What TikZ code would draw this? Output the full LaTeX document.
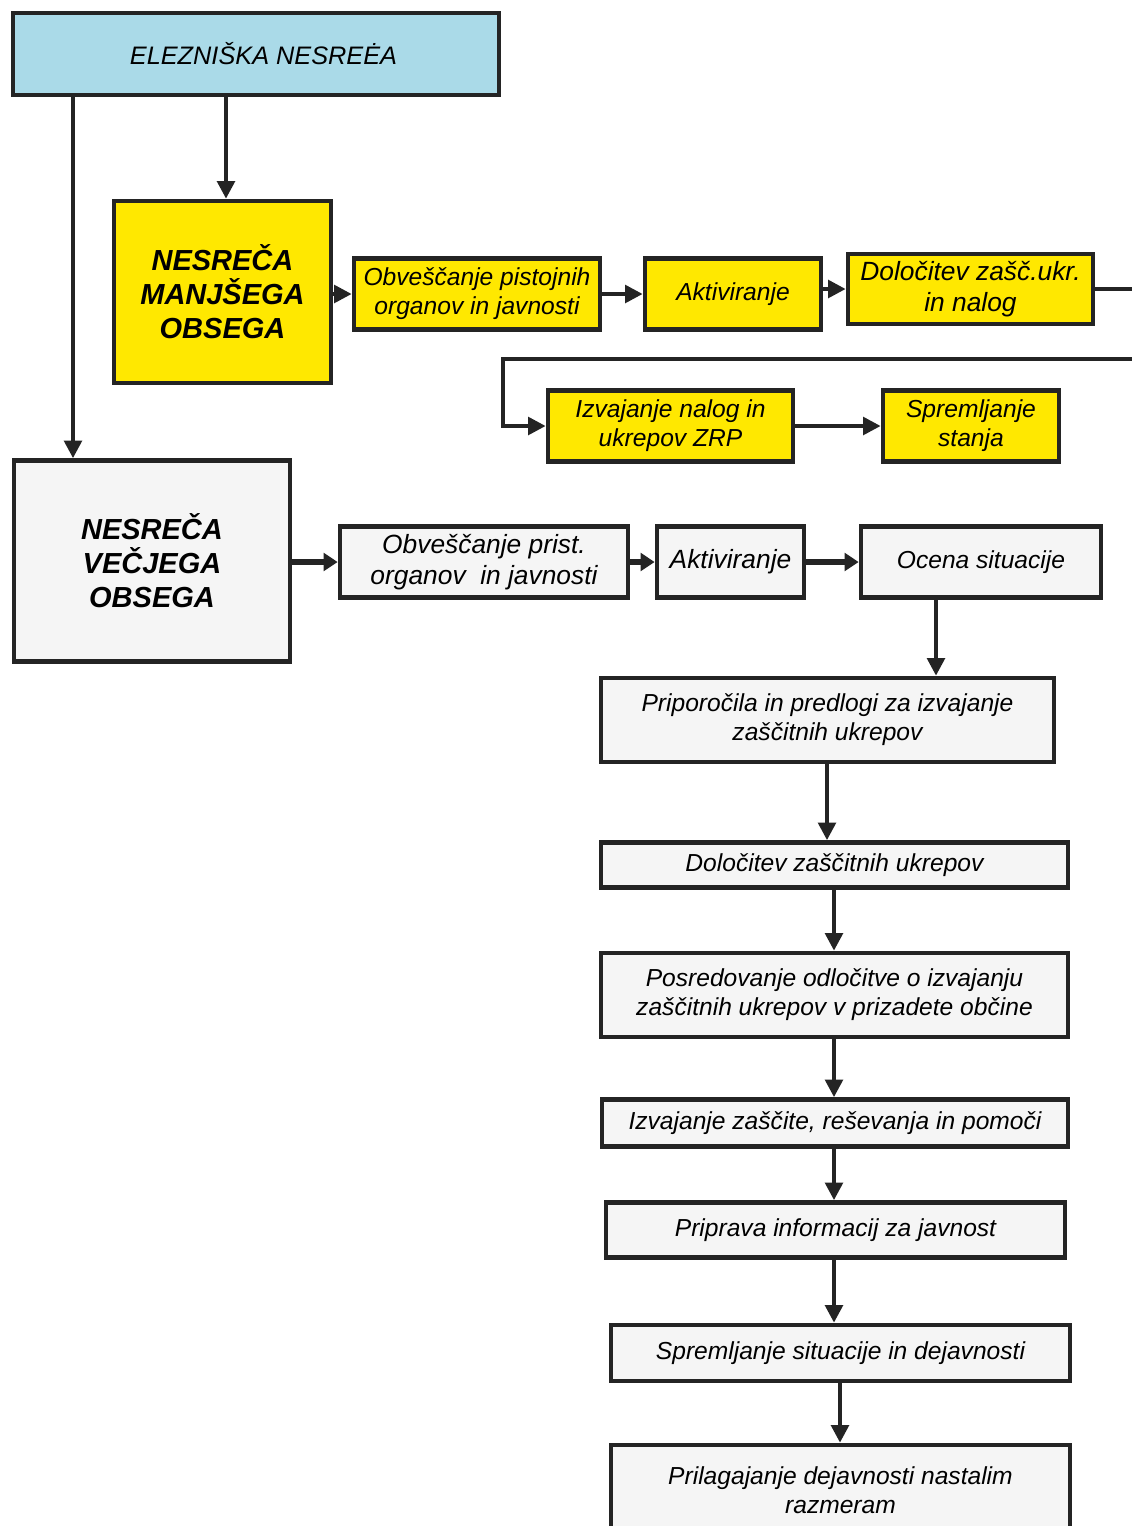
\documentclass[tikz,border=0pt]{standalone}
\usepackage{fontspec}
\setmainfont{Liberation Sans}
\usetikzlibrary{arrows.meta}

\definecolor{nesrecablue}{RGB}{170,218,232}
\definecolor{nesrecayellow}{RGB}{255,232,0}
\definecolor{nesrecagray}{RGB}{245,245,245}
\definecolor{linegray}{RGB}{36,36,36}

\begin{document}
\begin{tikzpicture}[x=0.02cm,y=-0.02cm,
  box/.style={draw=linegray,line width=2.7pt,align=center,inner sep=0pt,fill=nesrecagray,
    font=\fontsize{14}{16.6}\selectfont\itshape},
  bigbox/.style={box,font=\fontsize{16.5}{19.3}\selectfont\bfseries\itshape},
  arr/.style={draw=linegray,line width=2.2pt,-{Triangle[length=10pt,width=10pt]}},
  thickarr/.style={arr,line width=3pt,-{Triangle[length=8pt,width=10pt]}}]

\clip (0,0) rectangle (1132,1526);
\fill[white] (0,0) rectangle (1132,1526);

\node (top) at (256,54)[box,fill=nesrecablue,minimum width=9.72cm,minimum height=1.64cm,font=\fontsize{14.4}{17}\selectfont\itshape]{\hspace{0.3cm}ELEZNIŠKA NESREĖA};

\node (manj) at (222.5,292)[bigbox,fill=nesrecayellow,minimum width=4.34cm,minimum height=3.64cm]{NESREČA\\MANJŠEGA\\OBSEGA};
\node (obvm) at (477,294)[box,fill=nesrecayellow,minimum width=4.92cm,minimum height=1.42cm]{Obveščanje pistojnih\\organov in javnosti};
\node (aktm) at (733,294)[box,fill=nesrecayellow,minimum width=3.52cm,minimum height=1.42cm]{Aktiviranje};
\node (dolm) at (970.5,289)[box,fill=nesrecayellow,minimum width=4.9cm,minimum height=1.4cm,font=\fontsize{15}{18}\selectfont\itshape]{Določitev zašč.ukr.\\in nalog};
\node (izvm) at (670.5,426)[box,fill=nesrecayellow,minimum width=4.9cm,minimum height=1.42cm]{Izvajanje nalog in\\ukrepov ZRP};
\node (sprm) at (971,426)[box,fill=nesrecayellow,minimum width=3.52cm,minimum height=1.42cm]{Spremljanje\\stanja};

\node (vec) at (152,561)[bigbox,minimum width=5.52cm,minimum height=4.02cm]{NESREČA\\VEČJEGA\\OBSEGA};
\node (obvv) at (484,562)[box,minimum width=5.76cm,minimum height=1.42cm,font=\fontsize{15}{18}\selectfont\itshape]{Obveščanje prist.\\organov~ in javnosti};
\node (aktv) at (730.5,562)[box,minimum width=2.94cm,minimum height=1.42cm,font=\fontsize{15}{18}\selectfont\itshape]{Aktiviranje};
\node (ocena) at (981,562)[box,minimum width=4.8cm,minimum height=1.42cm]{Ocena situacije};

\node (prip) at (827.5,720)[box,minimum width=9.06cm,minimum height=1.68cm]{Priporočila in predlogi za izvajanje\\zaščitnih ukrepov};
\node (dolz) at (834.5,865)[box,minimum width=9.34cm,minimum height=0.9cm]{Določitev zaščitnih ukrepov};
\node (posr) at (834.5,995)[box,minimum width=9.34cm,minimum height=1.68cm]{Posredovanje odločitve o izvajanju\\zaščitnih ukrepov v prizadete občine};
\node (izvz) at (835,1123)[box,minimum width=9.32cm,minimum height=0.94cm]{Izvajanje zaščite, reševanja in pomoči};
\node (priz) at (835.5,1230)[box,minimum width=9.18cm,minimum height=1.1cm]{Priprava informacij za javnost};
\node (spsi) at (840.5,1353)[box,minimum width=9.18cm,minimum height=1.12cm]{Spremljanje situacije in dejavnosti};
\node (pril) at (840.5,1490)[box,minimum width=9.18cm,minimum height=1.8cm]{Prilagajanje dejavnosti nastalim\\razmeram};

\coordinate (loopr) at (dolm.east -| 1145,0);

\draw[arr](top.south -| 226,0) -- (manj.north -| 226,0);
\draw[arr](top.south -| 73,0) -- (vec.north -| 73,0);

\draw[arr](manj.east |- obvm.west) -- (obvm.west);
\draw[arr](obvm.east) -- (aktm.west);
\draw[arr](aktm.east |- dolm.west) -- (dolm.west);
\draw[arr](dolm.east) -- (loopr) -- ++(0,70) -| (503,400) |- (izvm.west);
\draw[arr](izvm.east) -- (sprm.west);

\draw[thickarr](vec.east |- obvv.west) -- (obvv.west);
\draw[thickarr](obvv.east) -- (aktv.west);
\draw[thickarr](aktv.east) -- (ocena.west);

\draw[arr](ocena.south -| 936,0) -- (prip.north -| 936,0);
\draw[arr](prip.south -| 827,0) -- (dolz.north -| 827,0);
\draw[arr](dolz.south -| 834,0) -- (posr.north -| 834,0);
\draw[arr](posr.south -| 834,0) -- (izvz.north -| 834,0);
\draw[arr](izvz.south -| 834,0) -- (priz.north -| 834,0);
\draw[arr](priz.south -| 834,0) -- (spsi.north -| 834,0);
\draw[arr](spsi.south -| 840,0) -- (pril.north -| 840,0);

\end{tikzpicture}
\end{document}
